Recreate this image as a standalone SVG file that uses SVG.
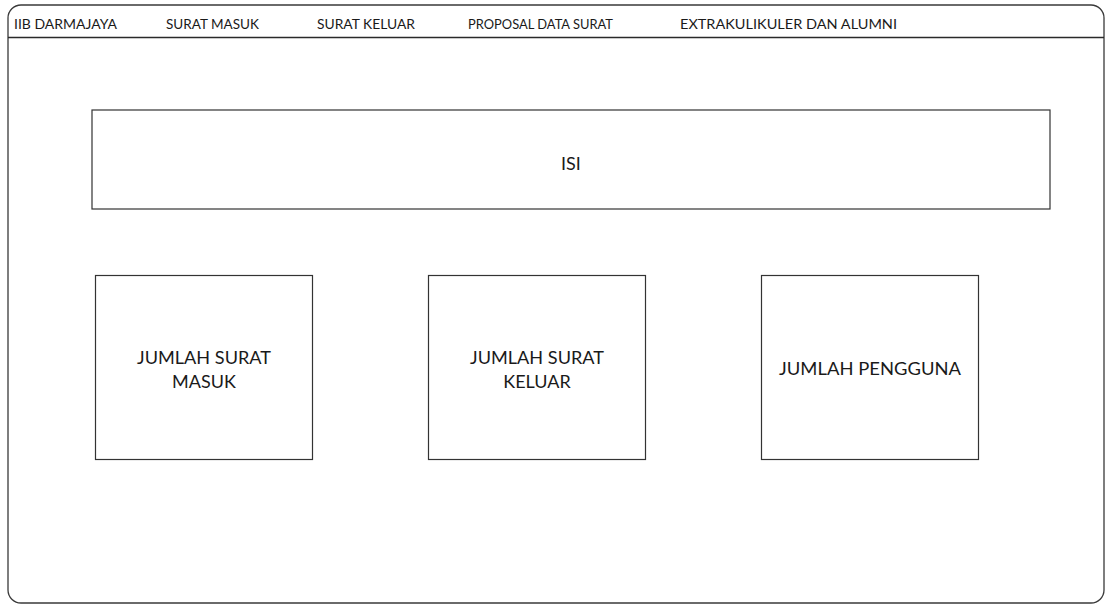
<svg xmlns="http://www.w3.org/2000/svg" width="1105" height="605" viewBox="0 0 1105 605">
  <style>
    .frame { fill: #ffffff; stroke: #3a3a3a; stroke-width: 1.3; }
    .box { fill: #ffffff; stroke: #333333; stroke-width: 1.2; }
    .menu { font-family: Lato, "Liberation Sans", sans-serif; font-size: 13.5px; fill: #1a1a1a; }
    .label { font-family: Lato, "Liberation Sans", sans-serif; font-size: 18px; fill: #1a1a1a; text-anchor: middle; }
  </style>
  <rect width="1105" height="605" fill="#ffffff"/>

  <!-- page frame with menu bar -->
  <g id="page">
    <rect class="frame" x="8" y="5" width="1096" height="598" rx="13" ry="13"/>
    <line x1="8" y1="37.5" x2="1104" y2="37.5" stroke="#2a2a2a" stroke-width="1.3"/>
  </g>

  <g id="menu">
    <text class="menu" x="14" y="29" textLength="103" lengthAdjust="spacingAndGlyphs">IIB DARMAJAYA</text>
    <text class="menu" x="166" y="29" textLength="93" lengthAdjust="spacingAndGlyphs">SURAT MASUK</text>
    <text class="menu" x="317" y="29" textLength="98" lengthAdjust="spacingAndGlyphs">SURAT KELUAR</text>
    <text class="menu" x="468" y="29" textLength="145" lengthAdjust="spacingAndGlyphs">PROPOSAL  DATA SURAT</text>
    <text class="menu" x="680" y="29" textLength="217" lengthAdjust="spacingAndGlyphs">EXTRAKULIKULER DAN ALUMNI</text>
  </g>

  <g id="isi">
    <rect class="box" x="92" y="110" width="958" height="99"/>
    <text class="label" x="571" y="169.5">ISI</text>
  </g>

  <g id="jumlah-surat-masuk">
    <rect class="box" x="95.5" y="275.5" width="217" height="184"/>
    <text class="label" x="204" y="363.5" textLength="134" lengthAdjust="spacingAndGlyphs">JUMLAH SURAT</text>
    <text class="label" x="204" y="387.5">MASUK</text>
  </g>

  <g id="jumlah-surat-keluar">
    <rect class="box" x="428.5" y="275.5" width="217" height="184"/>
    <text class="label" x="537" y="363.5" textLength="134" lengthAdjust="spacingAndGlyphs">JUMLAH SURAT</text>
    <text class="label" x="537" y="387.5">KELUAR</text>
  </g>

  <g id="jumlah-pengguna">
    <rect class="box" x="761.5" y="275.5" width="217" height="184"/>
    <text class="label" x="870" y="374.5" textLength="182" lengthAdjust="spacingAndGlyphs">JUMLAH PENGGUNA</text>
  </g>

  <g id="connectors"/>
</svg>
